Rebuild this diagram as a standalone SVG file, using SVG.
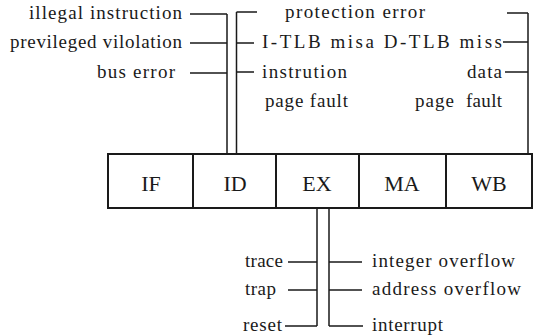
<svg xmlns="http://www.w3.org/2000/svg" width="541" height="335" viewBox="0 0 541 335">
<style>
.ln{stroke:#1a1a1a;stroke-width:1.5;fill:none}
.box{stroke:#1a1a1a;stroke-width:2;fill:#fff}
text{font-family:'Liberation Serif','DejaVu Serif',serif;fill:#1a1a1a}
</style>
<rect width="541" height="335" fill="#fff"/>
<g id="connectors" class="ln">
<path d="M227 14V154M190 14H227M190 43H227M190 73H227"/>
<path d="M236.5 12V154M236.5 12H257M236.5 43H254M236.5 72H254"/>
<path d="M528 13V154M507 13H528M503 42H528M505 72H528"/>
<path d="M317 208V326M288 262H317M288 290H317M285 326H317"/>
<path d="M329 208V326M329 262H362M329 290H362M329 326H363"/>
</g>
<g font-size="19">
<g id="pipeline" font-size="22" text-anchor="middle">
<g id="IF"><rect class="box" x="108" y="154" width="85" height="54"/><text x="151" y="191">IF</text></g>
<g id="ID"><rect class="box" x="193" y="154" width="83" height="54"/><text x="235" y="191">ID</text></g>
<g id="EX"><rect class="box" x="276" y="154" width="83" height="54"/><text x="317" y="191">EX</text></g>
<g id="MA"><rect class="box" x="359" y="154" width="87" height="54"/><text x="402" y="191">MA</text></g>
<g id="WB"><rect class="box" x="446" y="154" width="86" height="54"/><text x="489" y="191">WB</text></g>
</g>
<g id="t-illegal"><text x="29" y="19" textLength="153" lengthAdjust="spacing">illegal instruction</text></g>
<g id="t-previleged"><text x="10" y="48" textLength="172" lengthAdjust="spacing">previleged vilolation</text></g>
<g id="t-bus"><text x="97" y="78" textLength="78" lengthAdjust="spacing">bus error</text></g>
<g id="t-protection"><text x="285" y="18" textLength="140" lengthAdjust="spacing">protection error</text></g>
<g id="t-tlb"><text x="262" y="48" textLength="240" lengthAdjust="spacing">I-TLB misa D-TLB miss</text></g>
<g id="t-ipf"><text x="262" y="78" textLength="85" lengthAdjust="spacing">instrution</text><text x="265" y="107" textLength="83" lengthAdjust="spacing">page fault</text></g>
<g id="t-dpf"><text x="467" y="78" textLength="35" lengthAdjust="spacing">data</text><text x="415" y="107" textLength="39" lengthAdjust="spacing">page</text><text x="466" y="107" textLength="36" lengthAdjust="spacing">fault</text></g>
<g id="t-trace"><text x="245" y="267" textLength="38" lengthAdjust="spacing">trace</text></g>
<g id="t-trap"><text x="245" y="295" textLength="31" lengthAdjust="spacing">trap</text></g>
<g id="t-reset"><text x="243" y="331" textLength="39" lengthAdjust="spacing">reset</text></g>
<g id="t-int"><text x="372" y="267" textLength="143" lengthAdjust="spacing">integer overflow</text></g>
<g id="t-addr"><text x="372" y="295" textLength="149" lengthAdjust="spacing">address overflow</text></g>
<g id="t-intr"><text x="372" y="331" textLength="71" lengthAdjust="spacing">interrupt</text></g>
</g>
</svg>
